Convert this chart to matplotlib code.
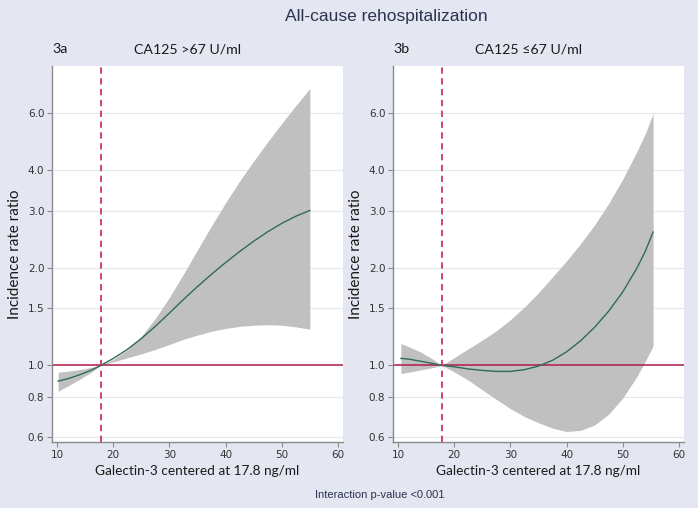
import numpy as np
import matplotlib
matplotlib.use("Agg")
import matplotlib.pyplot as plt
from matplotlib.ticker import FixedLocator, FixedFormatter, NullLocator

#
# Data (incidence rate ratio vs galectin-3)
#

x_a = [10.2, 12, 14, 16, 17.8, 20, 22.5, 25, 27.5, 30, 32.5, 35, 37.5, 40,
       42.5, 45, 47.5, 50, 52.5, 55]
irr_a = [0.894, 0.91, 0.935, 0.965, 1.0, 1.05, 1.12, 1.21, 1.32, 1.45, 1.598,
         1.751, 1.912, 2.077, 2.246, 2.417, 2.585, 2.745, 2.887, 3.008]
upper_a = [0.953, 0.96, 0.97, 0.985, 1.0, 1.042, 1.117, 1.23, 1.396, 1.622,
           1.914, 2.275, 2.698, 3.177, 3.707, 4.276, 4.898, 5.585, 6.339, 7.16]
lower_a = [0.832, 0.865, 0.905, 0.95, 1.0, 1.025, 1.055, 1.085, 1.12, 1.16,
           1.204, 1.24, 1.275, 1.30, 1.32, 1.33, 1.335, 1.33, 1.315, 1.293]

x_b = [10.5, 12, 14, 16, 17.8, 20, 22.5, 25, 27.5, 30, 32.5, 35, 37.5, 40,
       42.5, 45, 47.5, 50, 52.5, 54, 55.4]
irr_b = [1.051, 1.045, 1.03, 1.015, 1.0, 0.99, 0.975, 0.965, 0.958, 0.958,
         0.97, 0.995, 1.037, 1.101, 1.191, 1.312, 1.471, 1.686, 1.994, 2.248,
         2.58]
upper_b = [1.168, 1.14, 1.10, 1.05, 1.0, 1.057, 1.125, 1.197, 1.279, 1.384,
           1.514, 1.675, 1.875, 2.104, 2.377, 2.716, 3.162, 3.758, 4.571,
           5.188, 6.0]
lower_b = [0.944, 0.953, 0.968, 0.983, 1.0, 0.955, 0.9, 0.84, 0.785, 0.735,
           0.695, 0.665, 0.64, 0.625, 0.630, 0.655, 0.707, 0.793, 0.923, 1.028,
           1.148]

y_ticks = [0.6, 0.8, 1.0, 1.5, 2.0, 3.0, 4.0, 6.0]
y_labels = ["0.6", "0.8", "1.0", "1.5", "2.0", "3.0", "4.0", "6.0"]
x_ticks = [10, 20, 30, 40, 50, 60]
center = 17.8

panels = [
    ("3a", "CA125 >67 U/ml", x_a, irr_a, lower_a, upper_a),
    ("3b", "CA125 \u226467 U/ml", x_b, irr_b, lower_b, upper_b),
]

bg = "#e4e7f1"
navy = "#2b3350"

fig = plt.figure(figsize=(6.98, 5.08), dpi=100, facecolor=bg)

lefts = [52 / 698, 393 / 698]
for (tag, sub, xs, fit, lo, hi), left in zip(panels, lefts):
    ax = fig.add_axes([left, 66 / 508, 291 / 698, 376 / 508])
    ax.set_facecolor("white")
    ax.set_yscale("log")
    ax.set_ylim(0.58, 8.4)
    ax.set_xlim(9.1, 60.9)

    for t in y_ticks:
        ax.axhline(t, color="#e6e8ef", lw=0.9, zorder=0)

    ax.fill_between(xs, lo, hi, color="#c0c0c0", lw=0, zorder=1)
    ax.plot(xs, fit, color="#2f6b5c", lw=1.0, zorder=3)
    ax.axhline(1.0, color="#b01e48", lw=1.1, zorder=2)
    ax.axvline(center, color="#c8385e", lw=1.3, ls=(0, (3.5, 2.5)), zorder=4)

    ax.yaxis.set_major_locator(FixedLocator(y_ticks))
    ax.yaxis.set_major_formatter(FixedFormatter(y_labels))
    ax.yaxis.set_minor_locator(NullLocator())
    ax.set_xticks(x_ticks)

    for s in ["top", "right"]:
        ax.spines[s].set_visible(False)
    for s in ["left", "bottom"]:
        ax.spines[s].set_color("#8a8a8a")
        ax.spines[s].set_linewidth(1.0)
    ax.tick_params(axis="both", colors="#8a8a8a", labelcolor="#333333",
                   labelsize=7.5, length=3.5, width=0.8, pad=2)
    for lab in ax.get_xticklabels() + ax.get_yticklabels():
        lab.set_family("DejaVu Sans")

    ax.set_ylabel("Incidence rate ratio", fontsize=11, family="Lato",
                  color="#1a1a1a", labelpad=4)
    ax.set_xlabel("Galectin-3 centered at 17.8 ng/ml", fontsize=9.8,
                  family="Lato", color="#1a1a1a", labelpad=4)

    ax.text(0.0, 1.045, tag, transform=ax.transAxes, fontsize=10.2,
            family="Lato", color="#1a1a1a", ha="left", va="center")
    ax.text(0.465, 1.045, sub, transform=ax.transAxes, fontsize=10.2,
            family=["Lato", "DejaVu Sans"], color="#1a1a1a", ha="center",
            va="center")

fig.text(386 / 698, 1 - 17 / 508, "All-cause rehospitalization",
         fontsize=12.5, family="Liberation Sans", color=navy,
         ha="center", va="center")
fig.text(380 / 698, 1 - 495 / 508, "Interaction p-value <0.001",
         fontsize=8, family="Liberation Sans", color=navy,
         ha="center", va="center")

fig.savefig("out.png", dpi=100, facecolor=bg)
